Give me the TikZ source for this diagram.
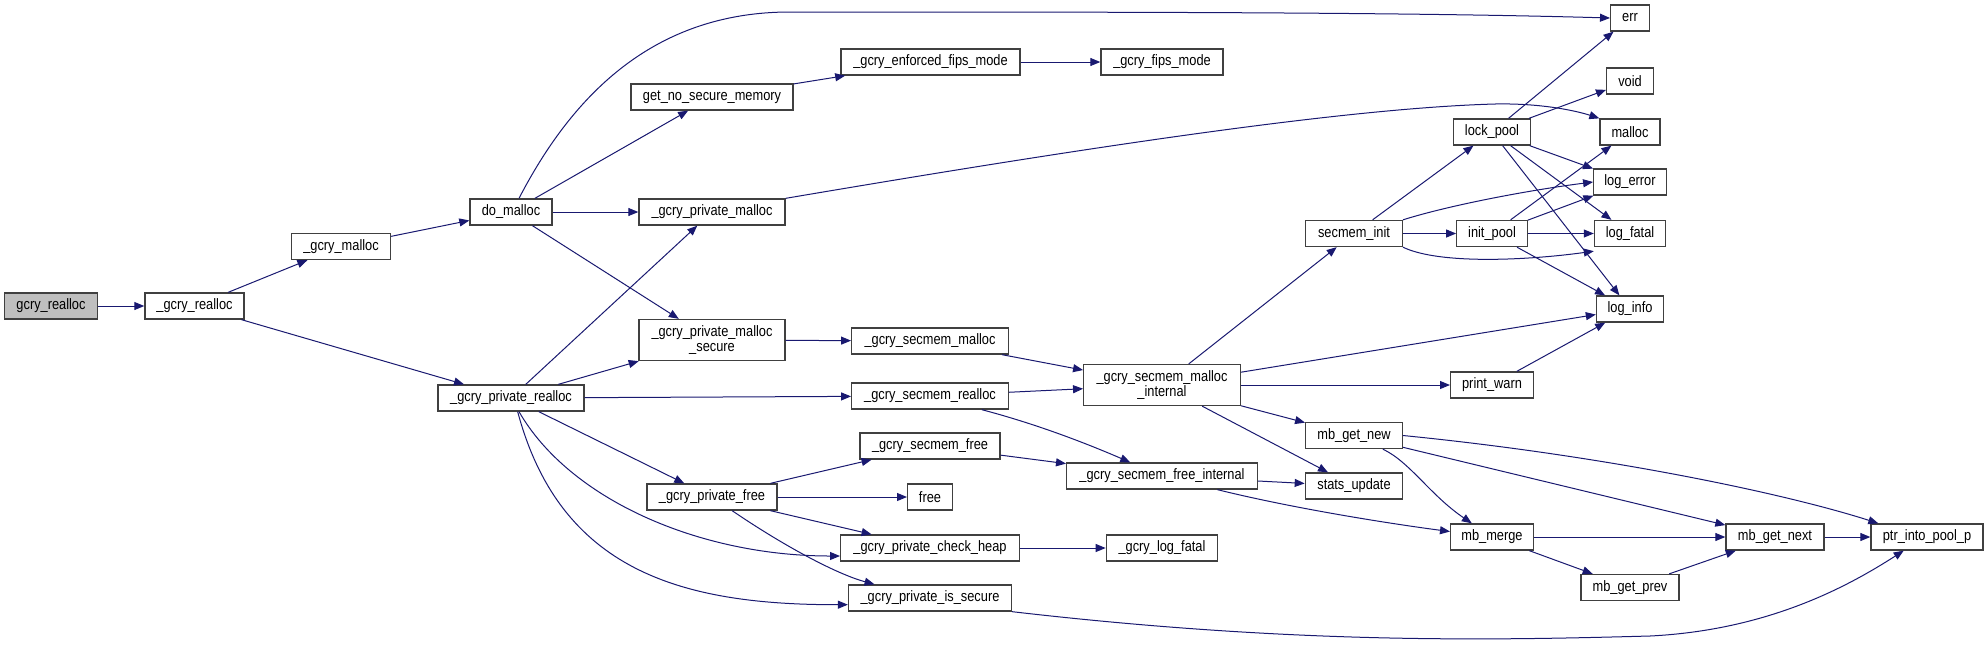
\documentclass[tikz,border=0pt]{standalone}
\usepackage{fontspec}
\setmainfont{Liberation Sans}[FakeStretch=0.85]
\usetikzlibrary{arrows.meta}
\definecolor{edgeblue}{RGB}{25, 25, 112}
\definecolor{rootgray}{RGB}{191, 191, 191}

\begin{document}
\begin{tikzpicture}[
    x=0.75pt, y=-0.75pt,
    fn/.style={rectangle, draw=black!75, line width=1pt, fill=white, minimum height=19.5pt, inner xsep=1pt, inner ysep=1pt, align=center, font=\fontsize{11.3}{11.4}\selectfont},
    twoline/.style={fn, minimum height=30.75pt},
    root/.style={fn, fill=rootgray},
    arr/.style={-{Triangle[length=7.5pt, width=6pt]}, draw=edgeblue, line width=0.75pt}
]
    \useasboundingbox (0,0) rectangle (1988,644);

    % caller chain
    \node[root, minimum width=69.4pt] (gcryrealloc) at (51,306) {gcry\_realloc};
    \node[fn, minimum width=74.3pt] (realloc) at (194.5,306) {\_gcry\_realloc};
    \node[fn, minimum width=74.3pt] (gmalloc) at (341,246.5) {\_gcry\_malloc};
    \node[fn, minimum width=61.5pt] (domalloc) at (511,212) {do\_malloc};
    \node[fn, minimum width=109.5pt] (privrealloc) at (511,398) {\_gcry\_private\_realloc};

    % private layer
    \node[fn, minimum width=121.5pt] (nosecmem) at (712,97) {get\_no\_secure\_memory};
    \node[fn, minimum width=109.5pt] (privmalloc) at (712,212) {\_gcry\_private\_malloc};
    \node[twoline, minimum width=109.5pt] (privmallocsec) at (712,340) {\_gcry\_private\_malloc\\\_secure};
    \node[fn, minimum width=97.5pt] (privfree) at (712,497) {\_gcry\_private\_free};

    % secmem layer
    \node[fn, minimum width=134.3pt] (enffips) at (930.5,62) {\_gcry\_enforced\_fips\_mode};
    \node[fn, minimum width=117.4pt] (smalloc) at (930,341) {\_gcry\_secmem\_malloc};
    \node[fn, minimum width=117.4pt] (srealloc) at (930,396) {\_gcry\_secmem\_realloc};
    \node[fn, minimum width=105pt] (sfree) at (930,446) {\_gcry\_secmem\_free};
    \node[fn, minimum width=33.5pt] (freefn) at (930,497) {free};
    \node[fn, minimum width=134pt] (checkheap) at (930,548) {\_gcry\_private\_check\_heap};
    \node[fn, minimum width=122.2pt] (issecure) at (930,598) {\_gcry\_private\_is\_secure};

    \node[fn, minimum width=91.5pt] (fipsmode) at (1162,62) {\_gcry\_fips\_mode};
    \node[twoline, minimum width=117.4pt] (smallocint) at (1162,385) {\_gcry\_secmem\_malloc\\\_internal};
    \node[fn, minimum width=143pt] (sfreeint) at (1162,476) {\_gcry\_secmem\_free\_internal};
    \node[fn, minimum width=83.5pt] (glogfatal) at (1162,548) {\_gcry\_log\_fatal};

    % pool helpers
    \node[fn, minimum width=72.4pt] (secinit) at (1354,233.5) {secmem\_init};
    \node[fn, minimum width=72.4pt] (mbnew) at (1354,435.5) {mb\_get\_new};
    \node[fn, minimum width=73pt] (stats) at (1354,486) {stats\_update};

    \node[fn, minimum width=58pt] (lockpool) at (1492,132) {lock\_pool};
    \node[fn, minimum width=52.8pt] (initpool) at (1492,233.5) {init\_pool};
    \node[fn, minimum width=62pt] (printwarn) at (1492,385) {print\_warn};
    \node[fn, minimum width=62pt] (mbmerge) at (1492,537) {mb\_merge};

    \node[fn, minimum width=29pt] (err) at (1630,18) {err};
    \node[fn, minimum width=35pt] (void) at (1630,81) {void};
    \node[fn, minimum width=45pt] (malloc) at (1630,132) {malloc};
    \node[fn, minimum width=54.4pt] (logerror) at (1630,182) {log\_error};
    \node[fn, minimum width=53.3pt] (logfatal) at (1630,233.5) {log\_fatal};
    \node[fn, minimum width=50.3pt] (loginfo) at (1630,309) {log\_info};
    \node[fn, minimum width=73.5pt] (mbprev) at (1630,587.5) {mb\_get\_prev};

    \node[fn, minimum width=73.5pt] (mbnext) at (1775,537) {mb\_get\_next};
    \node[fn, minimum width=84pt] (ptrpool) at (1927,537) {ptr\_into\_pool\_p};

    % calls
    \draw[arr] (gcryrealloc) -- (realloc);
    \draw[arr] (realloc) -- (gmalloc);
    \draw[arr] (realloc) -- (privrealloc);
    \draw[arr] (gmalloc) -- (domalloc);

    \draw[arr] ([xshift=6pt]domalloc.north) .. controls (570,100) and (650,12) .. (790,12) .. controls (1100,12) and (1400,12) .. (err.west);
    \draw[arr] (domalloc) -- (nosecmem);
    \draw[arr] (domalloc) -- (privmalloc);
    \draw[arr] (domalloc) -- (privmallocsec);
    \draw[arr] (nosecmem) -- (enffips);
    \draw[arr] (enffips) -- (fipsmode);
    \draw[arr] (privmalloc.north east) .. controls (1100,145) and (1350,108) .. (1495,104) .. controls (1545,103) and (1580,112) .. (malloc.north west);

    \draw[arr] (privrealloc) -- (privmalloc);
    \draw[arr] (privrealloc) -- (privmallocsec);
    \draw[arr] (privrealloc) -- (srealloc);
    \draw[arr] (privrealloc) -- (privfree);
    \draw[arr] ([xshift=6pt]privrealloc.south) .. controls (570,500) and (700,556) .. ([yshift=-6pt]checkheap.west);
    \draw[arr] ([xshift=5pt]privrealloc.south) .. controls (560,570) and (680,605) .. ([yshift=-5pt]issecure.west);

    \draw[arr] (privmallocsec) -- (smalloc);
    \draw[arr] (smalloc) -- (smallocint);
    \draw[arr] (srealloc) -- (smallocint);
    \draw[arr] (srealloc) .. controls (1040,425) and (1090,445) .. (sfreeint);
    \draw[arr] (sfree) -- (sfreeint);
    \draw[arr] (privfree) -- (sfree);
    \draw[arr] (privfree) -- (freefn);
    \draw[arr] (privfree) -- (checkheap);
    \draw[arr] (privfree) .. controls (790,550) and (840,575) .. ([xshift=20pt]issecure.north west);
    \draw[arr] (checkheap) -- (glogfatal);
    \draw[arr] (issecure.south east) .. controls (1300,645) and (1500,640) .. (1650,636) .. controls (1770,630) and (1850,585) .. ([xshift=25pt]ptrpool.south west);

    \draw[arr] (smallocint) -- (secinit);
    \draw[arr] (smallocint) -- (loginfo);
    \draw[arr] (smallocint) -- (printwarn);
    \draw[arr] (smallocint) -- (mbnew);
    \draw[arr] (smallocint) -- (stats);
    \draw[arr] (sfreeint) -- (stats);
    \draw[arr] (sfreeint) .. controls (1300,510) and (1400,525) .. (mbmerge);

    \draw[arr] (secinit) -- (lockpool);
    \draw[arr] (secinit) -- (initpool);
    \draw[arr] (secinit.north east) .. controls (1450,205) and (1530,190) .. (logerror.west);
    \draw[arr] (secinit.south east) .. controls (1440,265) and (1530,260) .. ([yshift=-3pt]logfatal.south west);

    \draw[arr] (lockpool) -- (err);
    \draw[arr] (lockpool) -- (void);
    \draw[arr] (lockpool) -- (logerror);
    \draw[arr] (lockpool) -- (logfatal);
    \draw[arr] (lockpool) -- (loginfo);
    \draw[arr] (initpool) -- (malloc);
    \draw[arr] (initpool) -- (logerror);
    \draw[arr] (initpool) -- (logfatal);
    \draw[arr] (initpool) -- (loginfo);
    \draw[arr] (printwarn) -- (loginfo);

    \draw[arr] (mbnew) .. controls (1410,462) and (1430,495) .. (mbmerge);
    \draw[arr] (mbnew) -- (mbnext);
    \draw[arr] (mbnew.east) .. controls (1600,455) and (1780,492) .. ([xshift=6pt]ptrpool.north west);
    \draw[arr] (mbmerge) -- (mbnext);
    \draw[arr] (mbmerge) -- (mbprev);
    \draw[arr] (mbprev) -- (mbnext);
    \draw[arr] (mbnext) -- (ptrpool);
\end{tikzpicture}
\end{document}
